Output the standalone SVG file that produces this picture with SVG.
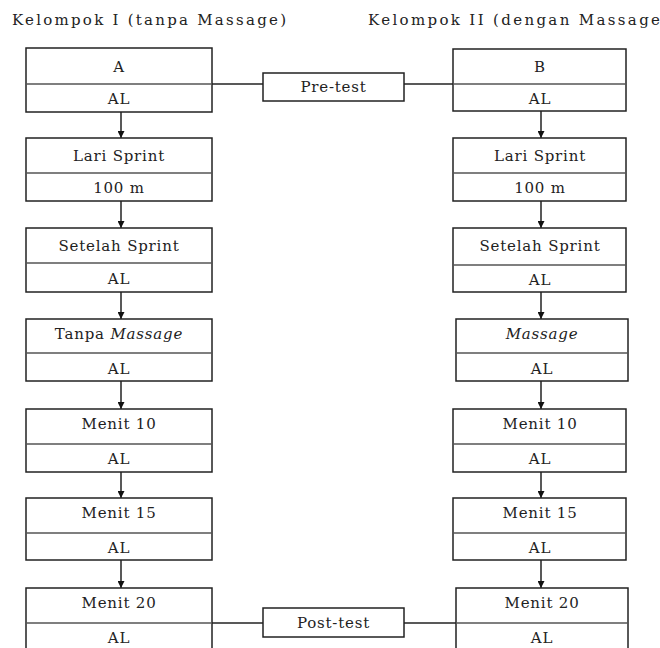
<svg xmlns="http://www.w3.org/2000/svg" width="660" height="648" viewBox="0 0 660 648">
<defs>
<marker id="ah" viewBox="0 0 10 10" refX="10" refY="5" markerWidth="7" markerHeight="7" markerUnits="userSpaceOnUse" orient="auto">
<path d="M0,0 L10,5 L0,10 z" fill="#111"/>
</marker>
</defs>
<style>
.box{fill:#fff;stroke:#222;stroke-width:1.5}
.div{stroke:#555;stroke-width:1.5}
.t{font-family:"DejaVu Serif","Liberation Serif",serif;font-size:15px;letter-spacing:0.8px;fill:#222;text-anchor:middle}
.ti{font-family:"DejaVu Serif","Liberation Serif",serif;font-size:15px;fill:#222}
.it{font-style:italic}
.c{stroke:#222;stroke-width:1.5;fill:none}
.ar{stroke:#222;stroke-width:1.5;fill:none;marker-end:url(#ah)}
</style>
<rect width="660" height="648" fill="#fff"/>
<text class="ti" x="12" y="25" textLength="274" lengthAdjust="spacing">Kelompok I (tanpa Massage)</text>
<text class="ti" x="368" y="25" textLength="292" lengthAdjust="spacing">Kelompok II (dengan Massage</text>

<g id="connectors">
<line class="c" x1="212" y1="84" x2="263" y2="84"/>
<line class="c" x1="404" y1="84" x2="453" y2="84"/>
<line class="c" x1="212" y1="623" x2="263" y2="623"/>
<line class="c" x1="404" y1="623" x2="456" y2="623"/>
<line class="ar" x1="121" y1="112" x2="121" y2="138"/>
<line class="ar" x1="121" y1="201" x2="121" y2="228"/>
<line class="ar" x1="121" y1="292" x2="121" y2="319"/>
<line class="ar" x1="121" y1="381" x2="121" y2="409"/>
<line class="ar" x1="121" y1="472" x2="121" y2="498"/>
<line class="ar" x1="121" y1="560" x2="121" y2="588"/>
<line class="ar" x1="541" y1="111" x2="541" y2="138"/>
<line class="ar" x1="541" y1="201" x2="541" y2="228"/>
<line class="ar" x1="541" y1="292" x2="541" y2="319"/>
<line class="ar" x1="541" y1="381" x2="541" y2="409"/>
<line class="ar" x1="541" y1="472" x2="541" y2="498"/>
<line class="ar" x1="541" y1="560" x2="541" y2="588"/>
</g>

<g id="L1"><rect class="box" x="26" y="48" width="186" height="64"/><line class="div" x1="26" y1="84" x2="212" y2="84"/><text class="t" x="119" y="72">A</text><text class="t" x="119" y="104">AL</text></g>
<g id="L2"><rect class="box" x="26" y="138" width="186" height="63"/><line class="div" x1="26" y1="173" x2="212" y2="173"/><text class="t" x="119" y="161">Lari Sprint</text><text class="t" x="119" y="193">100 m</text></g>
<g id="L3"><rect class="box" x="26" y="228" width="186" height="64"/><line class="div" x1="26" y1="263" x2="212" y2="263"/><text class="t" x="119" y="251">Setelah Sprint</text><text class="t" x="119" y="284">AL</text></g>
<g id="L4"><rect class="box" x="26" y="319" width="186" height="62"/><line class="div" x1="26" y1="353" x2="212" y2="353"/><text class="t" x="119" y="339">Tanpa <tspan class="it">Massage</tspan></text><text class="t" x="119" y="374">AL</text></g>
<g id="L5"><rect class="box" x="26" y="409" width="186" height="63"/><line class="div" x1="26" y1="444" x2="212" y2="444"/><text class="t" x="119" y="429">Menit 10</text><text class="t" x="119" y="464">AL</text></g>
<g id="L6"><rect class="box" x="26" y="498" width="186" height="62"/><line class="div" x1="26" y1="533" x2="212" y2="533"/><text class="t" x="119" y="518">Menit 15</text><text class="t" x="119" y="553">AL</text></g>
<g id="L7"><rect class="box" x="26" y="588" width="186" height="64"/><line class="div" x1="26" y1="623" x2="212" y2="623"/><text class="t" x="119" y="608">Menit 20</text><text class="t" x="119" y="643">AL</text></g>

<g id="R1"><rect class="box" x="453" y="49" width="173" height="62"/><line class="div" x1="453" y1="84" x2="626" y2="84"/><text class="t" x="540" y="72">B</text><text class="t" x="540" y="104">AL</text></g>
<g id="R2"><rect class="box" x="453" y="138" width="173" height="63"/><line class="div" x1="453" y1="173" x2="626" y2="173"/><text class="t" x="540" y="161">Lari Sprint</text><text class="t" x="540" y="193">100 m</text></g>
<g id="R3"><rect class="box" x="453" y="228" width="173" height="64"/><line class="div" x1="453" y1="265" x2="626" y2="265"/><text class="t" x="540" y="251">Setelah Sprint</text><text class="t" x="540" y="285">AL</text></g>
<g id="R4"><rect class="box" x="456" y="319" width="172" height="62"/><line class="div" x1="456" y1="353" x2="628" y2="353"/><text class="t it" x="542" y="339">Massage</text><text class="t" x="542" y="374">AL</text></g>
<g id="R5"><rect class="box" x="453" y="409" width="173" height="63"/><line class="div" x1="453" y1="444" x2="626" y2="444"/><text class="t" x="540" y="429">Menit 10</text><text class="t" x="540" y="464">AL</text></g>
<g id="R6"><rect class="box" x="453" y="498" width="173" height="62"/><line class="div" x1="453" y1="533" x2="626" y2="533"/><text class="t" x="540" y="518">Menit 15</text><text class="t" x="540" y="553">AL</text></g>
<g id="R7"><rect class="box" x="456" y="588" width="172" height="64"/><line class="div" x1="456" y1="623" x2="628" y2="623"/><text class="t" x="542" y="608">Menit 20</text><text class="t" x="542" y="643">AL</text></g>

<g id="pretest"><rect class="box" x="263" y="73" width="141" height="28"/><text class="t" x="333.5" y="92">Pre-test</text></g>
<g id="posttest"><rect class="box" x="263" y="608" width="141" height="29"/><text class="t" x="333.5" y="628">Post-test</text></g>
</svg>
